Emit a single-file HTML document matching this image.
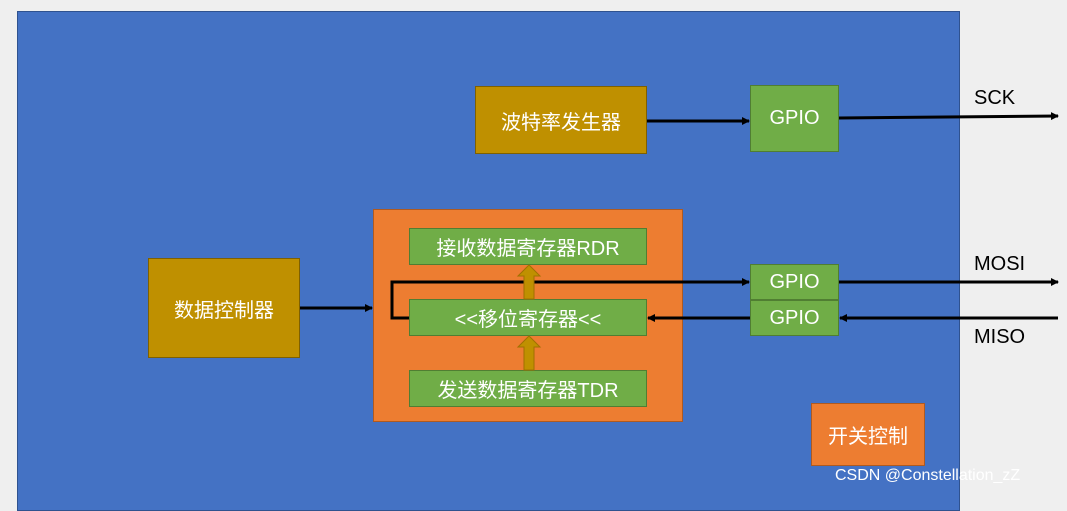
<!DOCTYPE html>
<html><head><meta charset="utf-8"><style>
html,body{margin:0;padding:0;}
body{width:1067px;height:497px;background:#efefef;position:relative;overflow:hidden;font-family:"Liberation Sans","Noto Sans CJK SC",sans-serif;}
.b{position:absolute;box-sizing:border-box;display:flex;align-items:center;justify-content:center;color:#fff;font-size:20px;}
.g{background:#70ad47;border:1px solid #507e32;}
.y{background:#bf9000;border:1px solid #7f6000;}
.o{background:#ed7d31;border:1px solid #ae5a21;}
.t{position:absolute;font-size:20px;color:#000;}
</style></head><body>
<div class="b" style="left:17px;top:11px;width:943px;height:500px;background:#4472c4;border:1px solid #2f528f;"></div>
<div class="b y" style="left:475px;top:86px;width:172px;height:68px;">波特率发生器</div>
<div class="b g" style="left:750px;top:85px;width:89px;height:67px;">GPIO</div>
<div class="b o" style="left:373px;top:209px;width:310px;height:213px;"></div>
<div class="b g" style="left:409px;top:228px;width:238px;height:37px;">接收数据寄存器RDR</div>
<div class="b g" style="left:409px;top:299px;width:238px;height:37px;">&lt;&lt;移位寄存器&lt;&lt;</div>
<div class="b g" style="left:409px;top:370px;width:238px;height:37px;">发送数据寄存器TDR</div>
<div class="b g" style="left:750px;top:264px;width:89px;height:36px;">GPIO</div>
<div class="b g" style="left:750px;top:300px;width:89px;height:36px;">GPIO</div>
<div class="b y" style="left:148px;top:258px;width:152px;height:100px;">数据控制器</div>
<div class="b o" style="left:811px;top:403px;width:114px;height:63px;">开关控制</div>
<div class="t" style="left:974px;top:87px;">SCK</div>
<div class="t" style="left:974px;top:253px;">MOSI</div>
<div class="t" style="left:974px;top:326px;">MISO</div>
<div class="t" style="left:835px;top:467px;font-size:16px;color:#fff;">CSDN @Constellation_zZ</div>
<svg width="1067" height="497" style="position:absolute;left:0;top:0;">
<defs><marker id="a" markerWidth="8" markerHeight="8" refX="7" refY="4" orient="auto" markerUnits="userSpaceOnUse"><path d="M0,0L8,4L0,8z" fill="#000"/></marker></defs>
<g stroke="#000" stroke-width="3" fill="none">
<line x1="647" y1="121" x2="749" y2="121" marker-end="url(#a)"/>
<line x1="839" y1="118" x2="1058" y2="116" marker-end="url(#a)"/>
<line x1="839" y1="282" x2="1058" y2="282" marker-end="url(#a)"/>
<line x1="1058" y1="318" x2="840" y2="318" marker-end="url(#a)"/>
<line x1="750" y1="318" x2="648" y2="318" marker-end="url(#a)"/>
<polyline points="409,318 392,318 392,282 749,282" marker-end="url(#a)"/>
<line x1="300" y1="308" x2="372" y2="308" marker-end="url(#a)"/>
</g>
<g fill="#bf9000" stroke="#a07000" stroke-width="1">
<path d="M524,299V276H518L529,265L540,276H534V299Z"/>
<path d="M524,370V347H518L529,336L540,347H534V370Z"/>
</g>
</svg>
</body></html>
